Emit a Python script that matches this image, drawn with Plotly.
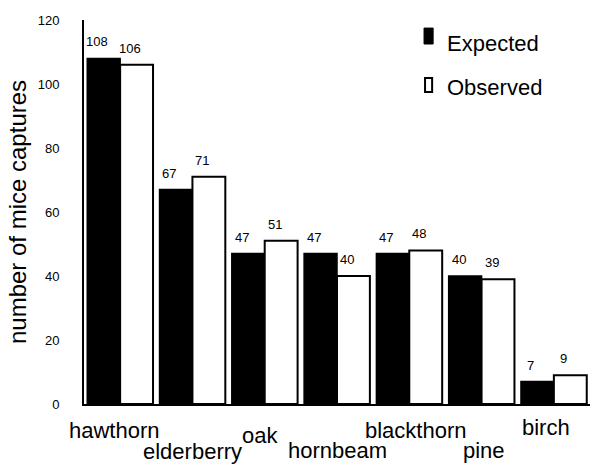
import plotly.graph_objects as go

categories = ["hawthorn", "elderberry", "oak", "hornbeam", "blackthorn", "pine", "birch"]
expected = [108, 67, 47, 47, 47, 40, 7]
observed = [106, 71, 51, 40, 48, 39, 9]
y_ticks = [0, 20, 40, 60, 80, 100, 120]

FONT = "Liberation Sans, Arial, sans-serif"

fig = go.Figure()
fig.add_trace(go.Bar(name="Expected", x=categories, y=expected,
                     marker=dict(color="black", line=dict(color="black", width=1.5)),
                     showlegend=False))
fig.add_trace(go.Bar(name="Observed", x=categories, y=observed,
                     marker=dict(color="white", line=dict(color="black", width=2)),
                     showlegend=False))

annotations = []
# value labels
for cat, e, o in zip(categories, expected, observed):
    annotations.append(dict(x=cat, y=e, text=str(e), showarrow=False, xref="x", yref="y",
                            xanchor="center", yanchor="bottom", xshift=-23, yshift=7,
                            font=dict(family=FONT, size=13, color="black")))
    annotations.append(dict(x=cat, y=o, text=str(o), showarrow=False, xref="x", yref="y",
                            xanchor="center", yanchor="bottom", xshift=10, yshift=7,
                            font=dict(family=FONT, size=13, color="black")))

# staggered category labels
label_xshift = [-6, 0, -5, 0, 7, 2, -8]
label_yshift = [-26, -47, -31, -46, -26, -46, -23]
for cat, dx, dy in zip(categories, label_xshift, label_yshift):
    annotations.append(dict(x=cat, y=0, xref="x", yref="paper", text=cat, showarrow=False,
                            xanchor="center", yanchor="middle", xshift=dx, yshift=dy,
                            font=dict(family=FONT, size=22, color="black")))

# custom legend
annotations.append(dict(x=0.713, y=0.940, xref="paper", yref="paper", text="Expected",
                        showarrow=False, xanchor="left", yanchor="middle",
                        font=dict(family=FONT, size=22, color="black")))
annotations.append(dict(x=0.713, y=0.823, xref="paper", yref="paper", text="Observed",
                        showarrow=False, xanchor="left", yanchor="middle",
                        font=dict(family=FONT, size=22, color="black")))
shapes = [
    dict(type="rect", xref="paper", yref="paper", x0=0.672, x1=0.690, y0=0.9375, y1=0.979,
         fillcolor="black", line=dict(color="black", width=1)),
    dict(type="rect", xref="paper", yref="paper", x0=0.674, x1=0.688, y0=0.8125, y1=0.849,
         fillcolor="white", line=dict(color="black", width=2)),
]

fig.update_layout(
    width=590, height=465,
    margin=dict(l=84, r=0, t=20, b=61, autoexpand=False),
    paper_bgcolor="white", plot_bgcolor="white",
    barmode="group", bargap=0.09, bargroupgap=0.0,
    font=dict(family=FONT, color="black"),
    annotations=annotations, shapes=shapes,
    xaxis=dict(range=[-0.5, len(categories) - 0.5], autorange=False,
               showticklabels=False, showline=True, linecolor="black", linewidth=2,
               showgrid=False, zeroline=False, ticks="", automargin=False),
    yaxis=dict(range=[0, 120], autorange=False, tickvals=y_ticks,
               ticktext=[str(v) for v in y_ticks],
               showline=True, linecolor="black", linewidth=2, showgrid=False,
               zeroline=False, ticks="", ticklabelstandoff=20, automargin=False,
               tickfont=dict(family=FONT, size=13, color="black"),
               title=dict(text="number of mice captures", standoff=4,
                          font=dict(family=FONT, size=24, color="black"))),
)

fig.write_html("out.html", config={"displayModeBar": False},
               post_script="document.body.style.margin='0';document.body.style.overflow='hidden';")
